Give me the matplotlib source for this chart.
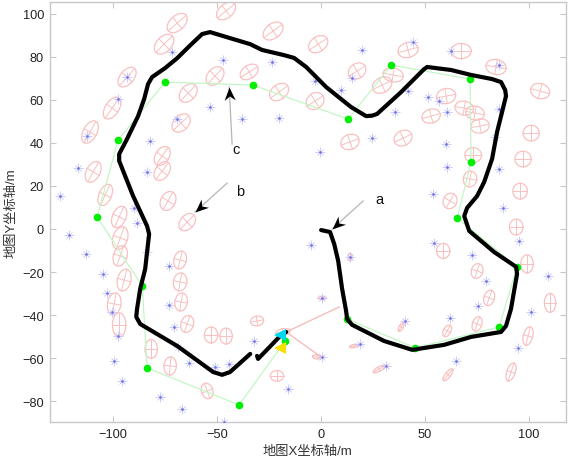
import numpy as np
import matplotlib
matplotlib.use('Agg')
import matplotlib.pyplot as plt
from matplotlib.patches import Ellipse
from matplotlib.markers import MarkerStyle
from matplotlib.path import Path
from matplotlib.transforms import Affine2D

plt.rcParams['font.family'] = ['Liberation Sans', 'Noto Sans CJK SC', 'DejaVu Sans']

path_a_x = [0,4.3,6.3,8.2,10.1,12,12.5,14.9,30.3,43.8,59.1,72.1,86.5,88.9,91.3,94.2,93.8,83.2,71.2,68.8,70.2,75,78.4,82.2,84.6,87,88.9,88.5,86.5,82.2,72.1,62.5,51,49.5,38.5,26.9,24.5,21.6,14.4,2.4,-7.2,-13,-17.8,-28.4,-34.1,-43.8,-53.4,-57.2,-63,-69.2,-75,-81.3,-83.2,-85.1,-88,-93.3,-97.1,-97.1,-90.4,-83.7,-82.7,-84.6,-87,-88.5,-88.9,-87,-69.2,-51.9,-47.6,-43.8,-34.1]
path_a_y = [-0.5,-1.4,-7,-14.8,-27.8,-38,-41.8,-44.5,-52,-56.1,-53.8,-50.1,-47.8,-45,-37.1,-20.9,-17.6,-10.7,-0.9,6,9.8,15.3,21.8,32.5,45,54.3,61.7,64.5,68.2,69.6,71.5,73.8,75.2,74.2,63.6,53.4,52.6,52.4,56.6,65.9,75.2,79.4,80.7,83.1,85.8,88.6,91.4,90.5,85.2,79.3,74.7,70.5,67.3,60.3,52.4,41.8,34.8,31.6,15.3,1.4,-2.3,-18.6,-27.8,-37.1,-40.8,-44.1,-54.3,-66.4,-67.7,-66.4,-58]
path_b_x = [-30.8,-30.3,-19.7,-16.8]
path_b_y = [-58.9,-60.3,-49.7,-47.8]

green_x = [-17.3,-39.4,-83.7,-86,-107.7,-97.6,-75,-32.7,13,33.7,71.6,72.1,65.4,94.2,85.6,45.2,12.5]
green_y = [-52,-81.7,-64.5,-26.5,5.6,41.3,68.2,66.8,51,76.1,69.6,31.1,5.1,-17.6,-45.5,-55.2,-41.8]

star_x = [-71.6,-47.1,-23.6,-93.3,-97.6,-53.4,-38,-20.2,-69.2,-112.5,-82.2,-116.8,-83.7,-125.5,-89.9,-88.5,19.7,44.2,62.5,85.6,14.9,-2.9,9.6,41.8,51.4,56.7,85.6,60.6,35.6,24.5,-0.5,60.1,83.7,60.6,85.6,53.8,87.5,-121.2,-113,-104.8,-102.9,-100.5,-97.6,-99.5,-95.7,-77.4,-66.8,-46.6,-83.7,-73.1,-73.1,-70.7,-68.8,-63.5,-51,-44.2,-32.2,-4.8,54.3,95.2,72.6,13.9,79.3,109.1,0.5,75.5,101,62,40.4,18.8,94.7,64.9,0.5,31.3,-15.9]
star_y = [82.1,78.4,77.5,70.5,60.3,56.6,51,51.5,51,43.2,40.8,28.3,26.5,15.3,9.7,2.8,83.1,86.8,82.6,76.1,70.1,68.7,64.5,64,61.3,59.4,55.7,54.3,54.3,42.2,35.7,39.4,42.7,28.8,27.8,16.2,9.7,-2.8,-11.6,-20.9,-29.7,-38.5,-49.7,-61.3,-70.5,-78,-83.5,-89.6,-10.7,-17.2,-35.3,-45.5,-54.8,-62.2,-64,-62.6,-52,-7.4,-6.5,-5.6,-12.1,-13,-24.1,-21.8,-32,-35.7,-38.5,-41.3,-42.7,-53.4,-55.2,-61.3,-59.4,-63.6,-74.2]

ell_x = [-45.7,-69.2,-23.1,-75.5,-93.3,-51,-34.6,-20.2,-63.9,-100.5,-67.3,-111.1,-76.4,-109.6,-76.4,-73.6,-103.8,-97.1,-64.4,-1.4,41.8,67.3,84.1,17.3,34.6,29.3,105.3,-2.9,60.1,68.8,74,52.9,76.4,101,39.4,13.9,73.1,97.1,71.6,95.7,62,93.8,-96.6,-96.6,-94.7,-99.5,-97.1,-67.8,-67.8,-67.3,-64.4,-52.9,-45.7,-30.8,-81.7,-72.6,-54.8,-21.2,58.7,99,75,80.8,110.1,75,60.6,38.5,99.5,15.9,0.5,13.9,-1.9,27.9,61,91.3,-18.3]
ell_y = [101.2,95.6,91.9,85.8,70.5,71,72.9,63.6,63.1,56.1,49.2,45,33.9,26.5,26.9,13,15.8,5.6,3.2,85.8,83.1,82.6,75.2,73.3,71.5,66.8,64,59.4,61.7,56.1,53.8,52.4,47.8,44.5,42.2,40.4,34.3,32.5,23.2,17.6,13,0.9,-4.2,-12.5,-23.7,-34.8,-44.5,-14.4,-24.6,-33.9,-44.1,-49.2,-49.7,-42.7,-55.7,-63.6,-75.2,-68.2,-10.2,-16.2,-19.5,-32,-34.3,-44.1,-47.3,-45.5,-49.7,-54.3,-32,-13,-59.4,-65,-67.7,-66.4,-47.8]
ell_major = [10.5,11.2,10.7,11,10.8,10,9.5,10,10,11.4,10,11.4,9.8,10.5,9.8,9.3,10.5,10.5,9.3,10,9.8,9.8,9.8,9,9.8,9.8,9.3,9,9.3,9,9,9,9,7.8,9,9,8,7.8,7.4,7.4,7.4,7.4,10.8,9.8,10.3,10.3,11.2,8.4,8.4,8.4,8,7.4,7.4,6.4,8.8,8.4,7.4,6.4,7,8.4,7,7.4,8.8,7,5.9,4.5,8.8,4.5,3.9,3.5,4.5,6.4,7,8.8,7]
ell_minor = [6.5,6.9,6.9,7.2,6.5,7,6.2,7,7,6.5,7,6.5,6.5,6.5,6.5,7,6,6.5,6.5,7,7,7,7,7,6.5,7,7,7.4,7,6.5,6.5,6.5,6.5,7.3,7,7,7,7.3,6.5,7,6.5,6.5,7,6.5,6.5,6.5,6.5,6,6.5,6,6,6.5,6,4.5,6,6,5.5,5,6.4,6,5.5,5,5.5,4.5,3.5,2,4.5,1.5,1.5,2,2,2,2.5,4,3]
ell_angle = [38,40,35,44,48,45,32,35,45,55,42,60,55,60,52,60,65,65,45,33,15,0,-10,32,-10,25,-15,32,10,-10,-10,15,10,0,25,20,0,0,80,90,60,90,70,70,75,80,90,75,80,80,70,90,90,10,90,85,110,0,90,90,70,70,90,70,60,60,75,10,0,90,-5,30,50,70,10]

current_x, current_y = -16.8, -47.8
ray_x = [8.7, 0]
ray_y = [-36.2, -59.4]
cyan_pose = (-19.7, -49.2)
yellow_pose = (-19.7, -55.2)

arrow_labels = ['a', 'b', 'c']
arrow_tails = [(20.2, 13), (-45.2, 21.3), (-42.8, 39.4)]
arrow_tips = [(5.3, 0), (-60.6, 7.9), (-44.2, 65.9)]
label_pos = [(27.9, 13.9), (-38.9, 17.6), (-40.9, 37.1)]

xticks = [-100, -50, 0, 50, 100]
yticks = [-80, -60, -40, -20, 0, 20, 40, 60, 80, 100]

W, H = 568, 460
fig = plt.figure(figsize=(W/100, H/100), dpi=100)
ax = fig.add_axes([49.5/W, 37/H, 516.2/W, 420.5/H])
ax.set_xlim(-130.6, 117.6)
ax.set_ylim(-89.6, 105.6)

RED = '#f9c0c0'
for cx, cy, a, b, ang in zip(ell_x, ell_y, ell_major, ell_minor, ell_angle):
    ax.add_patch(Ellipse((cx, cy), a, b, angle=ang, fill=False, ec=RED, lw=0.9, zorder=2))
    t = np.deg2rad(ang)
    ax.plot([cx - a/2*np.cos(t), cx + a/2*np.cos(t)], [cy - a/2*np.sin(t), cy + a/2*np.sin(t)], color=RED, lw=0.7, zorder=2)
    ax.plot([cx + b/2*np.sin(t), cx - b/2*np.sin(t)], [cy - b/2*np.cos(t), cy + b/2*np.cos(t)], color=RED, lw=0.7, zorder=2)

ax.plot(star_x, star_y, ls='none', marker='+', ms=7.5, mew=0.6, color='#c4c4f8', zorder=3)
ax.plot(star_x, star_y, ls='none', marker='x', ms=4, mew=0.6, color='#c4c4f8', zorder=3)
ax.plot(star_x, star_y, ls='none', marker='o', ms=1.8, mew=0, color='#7070e8', zorder=3)

ax.plot(green_x, green_y, color='#c4f6c4', lw=0.9, zorder=3)
ax.plot(green_x, green_y, ls='none', marker='o', ms=5.5, mew=0, color='#00ee00', zorder=4)

for rx, ry in zip(ray_x, ray_y):
    ax.plot([current_x, rx], [current_y, ry], color='#f9b5b5', lw=0.9, zorder=3)

ax.plot(path_a_x, path_a_y, color='black', lw=3.0, solid_capstyle='round', solid_joinstyle='round', zorder=5)
ax.plot(path_b_x, path_b_y, color='black', lw=3.0, solid_capstyle='round', solid_joinstyle='round', zorder=5)

ax.plot(*cyan_pose, ls='none', marker='<', ms=8, mew=0, color='#00d8f0', zorder=6)
ax.plot(*yellow_pose, ls='none', marker='<', ms=8, mew=0, color='#f5e000', zorder=6)

stealth = Path([(0, 0), (-1, 0.42), (-0.68, 0), (-1, -0.42), (0, 0)], closed=True)
for lab, tail, tip, lp in zip(arrow_labels, arrow_tails, arrow_tips, label_pos):
    ax.plot([tail[0], tip[0]], [tail[1], tip[1]], color='#b5b5b5', lw=0.9, zorder=6)
    pa = ax.transData.transform(tail); pb = ax.transData.transform(tip)
    ang = np.degrees(np.arctan2(pb[1]-pa[1], pb[0]-pa[0]))
    m = MarkerStyle(stealth, transform=Affine2D().rotate_deg(ang))
    ax.plot(*tip, ls='none', marker=m, ms=19, mew=0, color='black', zorder=7)
    ax.text(lp[0], lp[1], lab, fontsize=10.5, ha='center', va='center', color='#111111', zorder=7)

ax.set_xticks(xticks)
ax.set_yticks(yticks)
ax.tick_params(direction='in', top=True, right=True, length=4, width=0.8, color='#c8c8c8',
               labelsize=9.2, labelcolor='#222222', pad=4)
for s in ax.spines.values():
    s.set_color('#c8c8c8')
    s.set_linewidth(1.0)
ax.set_xlabel('地图X坐标轴/m', fontsize=9.5, color='#333333', labelpad=4)
ax.set_ylabel('地图Y坐标轴/m', fontsize=9.5, color='#333333', labelpad=3)
fig.savefig('out.png', dpi=100)
